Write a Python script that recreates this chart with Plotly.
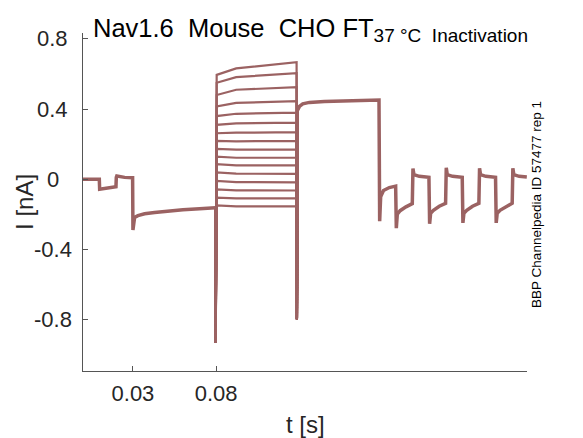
import plotly.graph_objects as go

# holding / pre-pulse part, shared by all sweeps
pre_t = [0.0, 0.0098, 0.0100, 0.0150, 0.0198, 0.0200, 0.0203, 0.0250, 0.0298,
         0.0300, 0.0304, 0.0310, 0.0330, 0.0370, 0.0430, 0.0500, 0.0600, 0.0700, 0.0795]
pre_i = [0.000, 0.000, -0.058, -0.050, -0.044, 0.010, 0.018, 0.010, 0.008,
         -0.290, -0.230, -0.218, -0.208, -0.198, -0.190, -0.182, -0.175, -0.169, -0.164]

# inactivation steps: current at step onset, at 0.092 s and at step end
step_t = [0.0795, 0.0797, 0.0803, 0.0920, 0.1283, 0.1285, 0.1290]
sweep_i0 = [0.595, 0.550, 0.480, 0.415, 0.360, 0.310, 0.262, 0.218,
            0.172, 0.128, 0.085, 0.038, -0.010, -0.058, -0.105, -0.150]
sweep_i1 = [0.632, 0.582, 0.510, 0.435, 0.373, 0.318, 0.265, 0.216,
            0.168, 0.122, 0.078, 0.031, -0.017, -0.064, -0.110, -0.155]
sweep_i2 = [0.667, 0.605, 0.525, 0.445, 0.380, 0.322, 0.268, 0.218,
            0.170, 0.122, 0.078, 0.030, -0.018, -0.065, -0.110, -0.155]
spike_on = -0.935
spike_off = -0.80

# test pulse and recovery train, shared by all sweeps
post_t = [0.1290, 0.1300, 0.1320, 0.1360, 0.1450, 0.1600, 0.1778,
          0.1782, 0.1788, 0.1805, 0.1840, 0.1878,
          0.1882, 0.1888, 0.1905, 0.1940, 0.1978,
          0.1982, 0.1988, 0.2020, 0.2078,
          0.2082, 0.2088, 0.2105, 0.2140, 0.2178,
          0.2182, 0.2188, 0.2220, 0.2278,
          0.2282, 0.2288, 0.2305, 0.2340, 0.2378,
          0.2382, 0.2388, 0.2420, 0.2478,
          0.2482, 0.2488, 0.2505, 0.2540, 0.2578,
          0.2582, 0.2588, 0.2620, 0.2666]
post_i = [0.395, 0.415, 0.430, 0.438, 0.443, 0.447, 0.452,
          -0.240, -0.100, -0.065, -0.048, -0.040,
          -0.280, -0.200, -0.180, -0.158, -0.140,
          0.060, 0.025, 0.016, 0.010,
          -0.255, -0.195, -0.178, -0.155, -0.138,
          0.065, 0.025, 0.016, 0.010,
          -0.250, -0.195, -0.178, -0.155, -0.138,
          0.062, 0.025, 0.016, 0.010,
          -0.250, -0.195, -0.178, -0.156, -0.138,
          0.062, 0.025, 0.016, 0.012]

ytick_vals = [-0.8, -0.4, 0, 0.4, 0.8]
ytick_text = ['-0.8', '-0.4', '0', '0.4', '0.8']
xtick_vals = [0.03, 0.08]
xtick_text = ['0.03', '0.08']

color = '#9b6262'
fig = go.Figure()

for a, b, c in zip(sweep_i0, sweep_i1, sweep_i2):
    fig.add_trace(go.Scatter(
        x=step_t,
        y=[pre_i[-1], spike_on, a, b, c, spike_off, post_i[0]],
        mode='lines', line=dict(color=color, width=2.2),
        hoverinfo='skip'
    ))

fig.add_trace(go.Scatter(
    x=pre_t + [None] + post_t,
    y=pre_i + [None] + post_i,
    mode='lines', line=dict(color=color, width=3.5),
    hoverinfo='skip'
))

font = 'Liberation Sans, Arial, sans-serif'
ann = []
for v, s in zip(ytick_vals, ytick_text):
    ann.append(dict(x=-0.068, y=v, xref='paper', yref='y', text=s, showarrow=False,
                    xanchor='center', yanchor='middle',
                    font=dict(family=font, size=22, color='#262626')))
ann.append(dict(x=-0.133, y=0.5, xref='paper', yref='paper', text='I [nA]',
                showarrow=False, textangle=-90, xanchor='center', yanchor='middle',
                font=dict(family=font, size=24, color='#262626')))
ann.append(dict(x=0.502, y=-0.157, xref='paper', yref='paper', text='t [s]',
                showarrow=False, xanchor='center', yanchor='middle',
                font=dict(family=font, size=24, color='#262626')))
ann.append(dict(x=0.018, y=1.008, xref='paper', yref='paper',
                text='Nav1.6\u00a0\u00a0Mouse\u00a0\u00a0CHO FT<sub><span style="font-size:19px">'
                     '37 \u00b0C\u00a0\u00a0Inactivation</span></sub>',
                showarrow=False, xanchor='left', yanchor='middle',
                font=dict(family=font, size=25.5, color='black')))
ann.append(dict(x=1.02, y=0.494, xref='paper', yref='paper',
                text='BBP Channelpedia ID 57477 rep 1', showarrow=False,
                textangle=-90, xanchor='center', yanchor='middle',
                font=dict(family=font, size=13.5, color='black')))

# the page shows the figure 8 px in from the top-left corner
fig.update_layout(
    width=583, height=438,
    margin=dict(l=75, r=64, t=25, b=75),
    plot_bgcolor='white', paper_bgcolor='white',
    showlegend=False,
    annotations=ann,
    xaxis=dict(range=[0, 0.2667], showgrid=False, zeroline=False,
               showline=True, linecolor='#555', linewidth=1,
               ticks='inside', ticklen=5, tickcolor='#555',
               tickvals=xtick_vals, ticktext=xtick_text, ticklabelstandoff=3,
               tickfont=dict(family=font, size=22, color='#262626')),
    yaxis=dict(range=[-1.095, 0.834], showgrid=False, zeroline=False,
               showline=True, linecolor='#555', linewidth=1,
               ticks='inside', ticklen=5, tickcolor='#555',
               tickvals=ytick_vals, showticklabels=False),
)

fig.write_html('out.html')
